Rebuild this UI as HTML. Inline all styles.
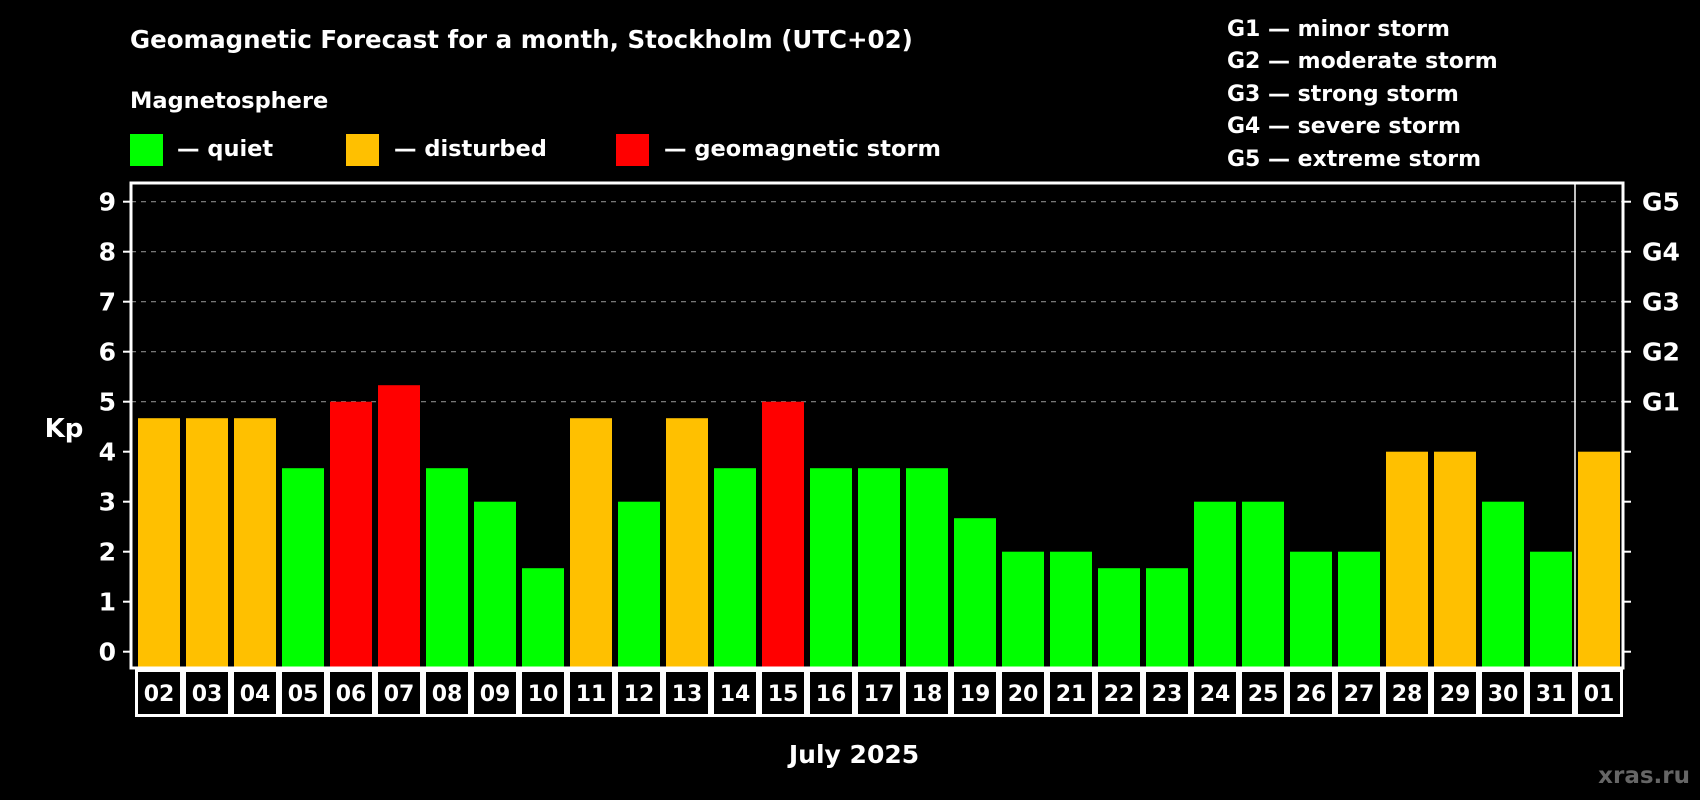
<!DOCTYPE html>
<html><head><meta charset="utf-8"><style>
html,body{margin:0;padding:0;background:#000;}
svg{display:block;font-family:"DejaVu Sans","Liberation Sans",sans-serif;font-weight:bold;}
</style></head><body>
<svg id="chart" width="1700" height="800" viewBox="0 0 1700 800">
<rect width="1700" height="800" fill="#000"/>
<text x="130" y="48" fill="#fff" font-size="24.5">Geomagnetic Forecast for a month, Stockholm (UTC+02)</text>
<text x="130" y="108" fill="#fff" font-size="22.5">Magnetosphere</text>
<g><rect x="130" y="134" width="33" height="32" fill="#00ff00"/><text x="177" y="156" fill="#fff" font-size="22.5">— quiet</text></g>
<g><rect x="346" y="134" width="33" height="32" fill="#ffc000"/><text x="394" y="156" fill="#fff" font-size="22.5">— disturbed</text></g>
<g><rect x="616" y="134" width="33" height="32" fill="#ff0000"/><text x="664" y="156" fill="#fff" font-size="22.5">— geomagnetic storm</text></g>
<g fill="#fff" font-size="22">
<text x="1227" y="36">G1 — minor storm</text>
<text x="1227" y="68">G2 — moderate storm</text>
<text x="1227" y="101">G3 — strong storm</text>
<text x="1227" y="133">G4 — severe storm</text>
<text x="1227" y="166">G5 — extreme storm</text>
</g>
<text x="64" y="437" fill="#fff" font-size="26" text-anchor="middle">Kp</text>
<g id="grid"></g><g id="bars"></g><g id="axes"></g>
<text x="854" y="763" fill="#fff" font-size="25" text-anchor="middle">July 2025</text>
<text x="1690" y="783" fill="#666" font-size="23" text-anchor="end">xras.ru</text>
</svg>
<script>
const days=["02","03","04","05","06","07","08","09","10","11","12","13","14","15","16","17","18","19","20","21","22","23","24","25","26","27","28","29","30","31","01"];
const kp=[4.67,4.67,4.67,3.67,5,5.33,3.67,3,1.67,4.67,3,4.67,3.67,5,3.67,3.67,3.67,2.67,2,2,1.67,1.67,3,3,2,2,4,4,3,2,4];
const status=["d","d","d","q","s","s","q","q","q","d","q","d","q","s","q","q","q","q","q","q","q","q","q","q","q","q","d","d","q","q","d"];
const yTicks=["0","1","2","3","4","5","6","7","8","9"];
const gLabels=["G1","G2","G3","G4","G5"];
const NS="http://www.w3.org/2000/svg";
const L=131,R=1623,T=183,B=668,x0=138,step=48,bw=42;
const y=v=>651.7-v*50;
const x=i=>x0+i*step;
const col={q:"#00ff00",d:"#ffc000",s:"#ff0000"};
function mk(tag,attrs,parent){const e=document.createElementNS(NS,tag);for(const k in attrs)e.setAttribute(k,attrs[k]);parent.appendChild(e);return e;}
const grid=document.getElementById('grid'),bars=document.getElementById('bars'),axes=document.getElementById('axes');
for(let v=5;v<=9;v++){const l=mk('line',{x1:L,x2:R,y1:y(v),y2:y(v),stroke:'#888','stroke-width':1.2,'stroke-dasharray':'5,5'},grid);

}
kp.forEach((v,i)=>{const r=mk('rect',{x:x(i),y:y(v),width:bw,height:B-y(v)-1,fill:col[status[i]]},bars);

});
mk('rect',{x:L,y:T,width:R-L,height:B-T,fill:'none',stroke:'#fff','stroke-width':3},axes);
const sep=mk('line',{x1:x(30)-3,x2:x(30)-3,y1:T,y2:B,stroke:'#fff','stroke-width':1.5},axes);


yTicks.forEach((t,i)=>{const v=+t;
mk('line',{x1:L-8,x2:L,y1:y(v),y2:y(v),stroke:'#fff','stroke-width':2},axes);
mk('line',{x1:R,x2:R+8,y1:y(v),y2:y(v),stroke:'#fff','stroke-width':2},axes);
const tx=mk('text',{x:116,y:y(v)+9,fill:'#fff','font-size':25,'text-anchor':'end'},axes);tx.textContent=t;

});
gLabels.forEach((g,i)=>{const tx=mk('text',{x:1642,y:y(5+i)+9,fill:'#fff','font-size':25},axes);tx.textContent=g;

});
days.forEach((d,i)=>{const bx=x(i)-3;
const r=mk('rect',{x:bx+1.5,y:670.5,width:step-3,height:45,fill:'none',stroke:'#fff','stroke-width':3},axes);


const tx=mk('text',{x:bx+step/2,y:701,fill:'#fff','font-size':22,'text-anchor':'middle'},axes);tx.textContent=d;

});
</script>
</body></html>
